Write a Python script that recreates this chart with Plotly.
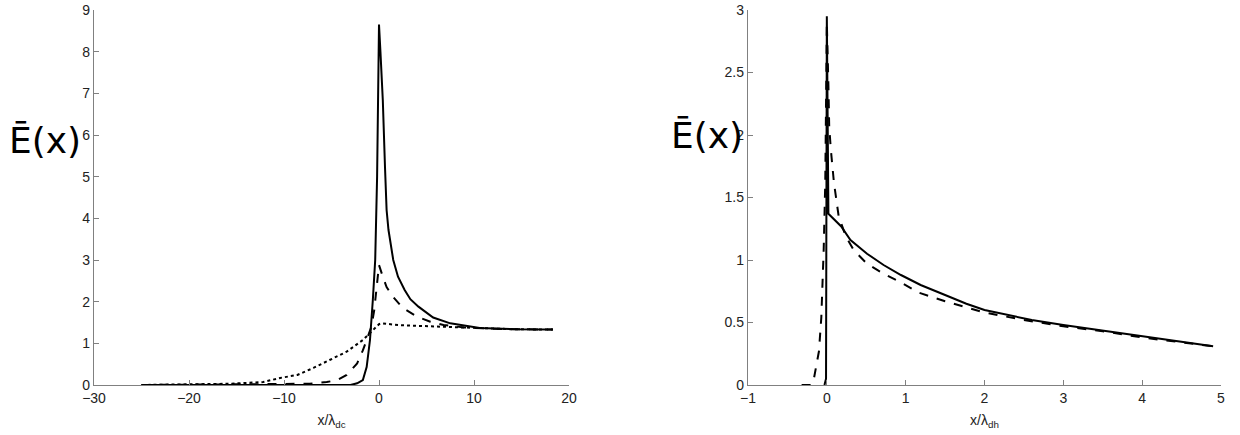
import plotly.graph_objects as go

# ---------------- Left panel data (x / lambda_dc) ----------------
left_solid_x = [-25, -3, -2.3, -1.7, -1.3, -0.95, -0.65, -0.4, -0.2, 0.0, 0.15, 0.4, 0.63, 0.8, 1.0, 1.5, 2.0, 2.7, 3.3, 4.15, 5.7, 7.5, 10.6, 14, 18.3]
left_solid_y = [0, 0, 0.04, 0.12, 0.43, 1.08, 2.04, 3.0, 5.0, 8.65, 8.0, 6.84, 5.23, 4.2, 3.72, 3.0, 2.6, 2.28, 2.06, 1.88, 1.62, 1.48, 1.37, 1.34, 1.33]

left_dash_x = [-25, -7.3, -5.5, -4.4, -3.4, -2.3, -1.7, -1.2, -0.8, -0.5, -0.2, 0.0, 0.4, 0.8, 1.5, 2.5, 4.0, 5.4, 6.8, 9, 12, 18.3]
left_dash_y = [0, 0.03, 0.07, 0.12, 0.24, 0.52, 0.83, 1.15, 1.4, 1.8, 2.4, 2.88, 2.6, 2.35, 2.11, 1.85, 1.64, 1.52, 1.44, 1.38, 1.35, 1.33]

left_dot_x = [-25, -20, -15.7, -12.2, -10.4, -8.6, -6.9, -5.2, -3.4, -1.7, -0.95, -0.4, 0.0, 0.3, 2, 4, 7.5, 10, 14, 18.3]
left_dot_y = [0, 0.01, 0.03, 0.07, 0.17, 0.24, 0.41, 0.6, 0.8, 1.08, 1.24, 1.38, 1.46, 1.48, 1.44, 1.42, 1.39, 1.36, 1.34, 1.33]

left_xticks = [-30, -20, -10, 0, 10, 20]
left_yticks = [0, 1, 2, 3, 4, 5, 6, 7, 8, 9]

# ---------------- Right panel data (x / lambda_dh) ----------------
right_solid_x = [-0.03, -0.01, 0.0, 0.01, 0.02, 0.18, 0.3, 0.51, 0.72, 0.94, 1.19, 1.5, 1.77, 2.0, 2.6, 3.0, 3.46, 4.0, 4.5, 4.9]
right_solid_y = [0, 0.05, 2.95, 1.6, 1.37, 1.27, 1.16, 1.05, 0.96, 0.88, 0.80, 0.72, 0.65, 0.60, 0.52, 0.48, 0.44, 0.39, 0.35, 0.31]

right_dash_x = [-0.32, -0.2, -0.17, -0.1, -0.07, -0.04, -0.02, 0.0, 0.02, 0.03, 0.05, 0.09, 0.15, 0.24, 0.34, 0.51, 0.72, 0.94, 1.16, 1.5, 2.0, 2.5, 3.0, 3.5, 4.0, 4.5, 4.9]
right_dash_y = [0, 0.0, 0.03, 0.27, 0.54, 1.08, 1.62, 2.9, 2.4, 2.07, 1.89, 1.62, 1.35, 1.19, 1.08, 0.97, 0.89, 0.82, 0.74, 0.67, 0.58, 0.52, 0.47, 0.43, 0.38, 0.34, 0.31]

right_xticks = [-1, 0, 1, 2, 3, 4, 5]
right_yticks = [0, 0.5, 1, 1.5, 2, 2.5, 3]
right_yticklabels = ["0", "0.5", "1", "1.5", "2", "2.5", "3"]

W, H = 1240, 435
ML, MR, MT, MB = 0, 0, 10, 50

fig = go.Figure()

line_black = "black"
fig.add_trace(go.Scatter(x=left_solid_x, y=left_solid_y, mode="lines",
                         line=dict(color=line_black, width=2), xaxis="x", yaxis="y", showlegend=False))
fig.add_trace(go.Scatter(x=left_dash_x, y=left_dash_y, mode="lines",
                         line=dict(color=line_black, width=2, dash="dash"), xaxis="x", yaxis="y", showlegend=False))
fig.add_trace(go.Scatter(x=left_dot_x, y=left_dot_y, mode="lines",
                         line=dict(color=line_black, width=2, dash="dot"), xaxis="x", yaxis="y", showlegend=False))

fig.add_trace(go.Scatter(x=right_solid_x, y=right_solid_y, mode="lines",
                         line=dict(color=line_black, width=2), xaxis="x2", yaxis="y2", showlegend=False))
fig.add_trace(go.Scatter(x=right_dash_x, y=right_dash_y, mode="lines",
                         line=dict(color=line_black, width=2, dash="dash"), xaxis="x2", yaxis="y2", showlegend=False))

tick_font = dict(family="Liberation Sans, Arial, sans-serif", size=14, color="#222")
axis_common = dict(showline=True, linecolor="#808080", linewidth=1.3, mirror=False,
                   ticks="inside", ticklen=5, tickcolor="#808080", showgrid=False,
                   zeroline=False, tickfont=tick_font, automargin=False)
title_font = dict(family="Liberation Sans, Arial, sans-serif", size=14, color="#222")

fig.update_layout(
    width=W, height=H,
    margin=dict(l=ML, r=MR, t=MT, b=MB, autoexpand=False),
    paper_bgcolor="white", plot_bgcolor="white",
    xaxis=dict(domain=[94 / W, 569 / W], range=[-30, 20], tickvals=left_xticks,
               anchor="y", title=dict(text="x/λ<sub>dc</sub>", standoff=10, font=title_font),
               **axis_common),
    yaxis=dict(domain=[0, 1], range=[0, 9], tickvals=left_yticks, anchor="x", **axis_common),
    xaxis2=dict(domain=[748 / W, 1221 / W], range=[-1, 5], tickvals=right_xticks,
                anchor="y2", title=dict(text="x/λ<sub>dh</sub>", standoff=10, font=title_font),
                **axis_common),
    yaxis2=dict(domain=[0, 1], range=[0, 3], tickvals=right_yticks, ticktext=right_yticklabels,
                anchor="x2", **axis_common),
)

label_font = dict(family="DejaVu Sans, sans-serif", color="black")
fig.add_annotation(text="Ē(x)", xref="paper", yref="paper", x=45 / W, y=(385 - 140) / 375,
                   showarrow=False, font=dict(size=36, **label_font), xanchor="center", yanchor="middle")
fig.add_annotation(text="Ē(x)", xref="paper", yref="paper", x=707 / W, y=(385 - 135) / 375,
                   showarrow=False, font=dict(size=36, **label_font), xanchor="center", yanchor="middle")

fig.write_html("out.html", config={"displayModeBar": False},
               post_script="document.body.style.margin='0px';")
